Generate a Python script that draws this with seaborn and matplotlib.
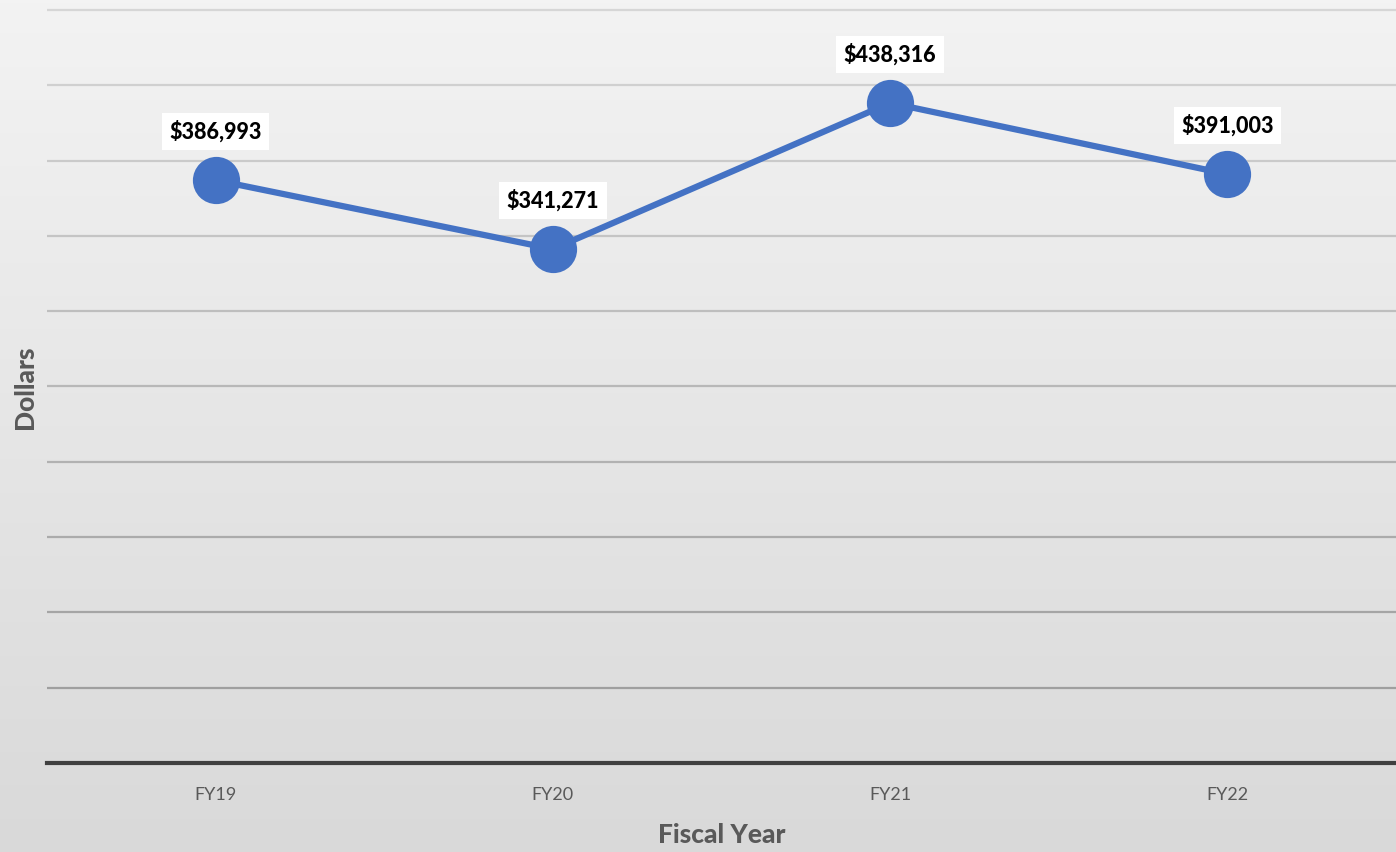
import numpy as np
import pandas as pd
import matplotlib
matplotlib.use("Agg")
import matplotlib.pyplot as plt
import seaborn as sns

years = ["FY19", "FY20", "FY21", "FY22"]
dollars = [386993, 341271, 438316, 391003]
grid_values = list(range(0, 500001, 50000))

df = pd.DataFrame({"Fiscal Year": years, "Dollars": dollars})

sns.set_theme(style="white")
plt.rcParams["font.family"] = ["Lato", "DejaVu Sans"]

W, H, DPI = 1396, 852, 100
fig = plt.figure(figsize=(W / DPI, H / DPI), dpi=DPI)

# background gradient
bg = fig.add_axes([0, 0, 1, 1], zorder=-10)
grad = np.linspace(0, 1, 256).reshape(-1, 1)
top = np.array([0xf3, 0xf3, 0xf3]) / 255
bot = np.array([0xd9, 0xd9, 0xd9]) / 255
img = top[None, None, :] * (1 - grad[:, :, None]) + bot[None, None, :] * grad[:, :, None]
bg.imshow(img, aspect="auto", extent=[0, 1, 0, 1], origin="upper")
bg.axis("off")

left = 47 / W
bottom = 1 - 763 / H
ax = fig.add_axes([left, bottom, 1 - left, 1 - bottom])
ax.patch.set_alpha(0)

ymax = 506640
ax.set_ylim(0, ymax)
ax.set_xlim(-0.5, 3.5)

# gridlines with colour fading darker toward bottom
for v in grid_values[1:]:
    t = 1 - v / 500000
    c = (1 - t) * np.array([0.84, 0.84, 0.84]) + t * np.array([0.60, 0.60, 0.60])
    ax.axhline(v, color=c, lw=1.6, zorder=1)

sns.lineplot(data=df, x="Fiscal Year", y="Dollars", ax=ax, color="#4472C4",
             linewidth=4.5, marker="o", markersize=34, markeredgewidth=0,
             zorder=3, sort=False)

for i, (yr, v) in enumerate(zip(years, dollars)):
    ax.annotate(f"${v:,.0f}", xy=(i, v), xytext=(0, 35), textcoords="offset points",
                ha="center", va="center", fontsize=15.5, fontweight=900,
                color="black", zorder=5,
                bbox=dict(boxstyle="square,pad=0.35", fc="white", ec="none"))

for s in ["top", "right", "left"]:
    ax.spines[s].set_visible(False)
ax.spines["bottom"].set_color("#404040")
ax.spines["bottom"].set_linewidth(3)
ax.set_yticks([])
ax.set_xticks(range(len(years)))
ax.set_xticklabels(years, color="#595959", fontsize=13)
ax.tick_params(axis="x", length=0, pad=17)
ax.set_xlabel("")
ax.set_ylabel("")

fig.text(722 / W, 1 - 835 / H, "Fiscal Year", ha="center", va="center",
         fontsize=19, fontweight=900, color="#595959")
fig.text(25 / W, 1 - 387 / H, "Dollars", ha="center", va="center", rotation=90,
         fontsize=19, fontweight=900, color="#595959")

fig.savefig("out.png", dpi=DPI)
